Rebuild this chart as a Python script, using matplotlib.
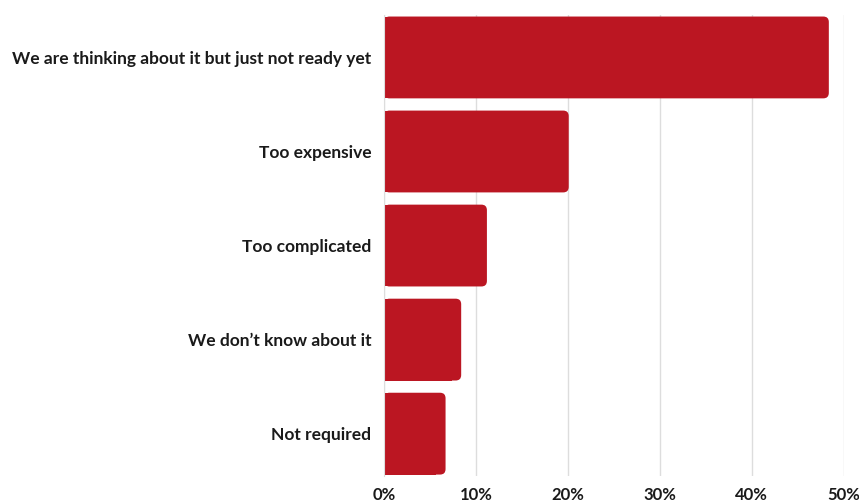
import matplotlib.pyplot as plt
from matplotlib.patches import FancyBboxPatch, Rectangle
from matplotlib.ticker import FuncFormatter

# survey answers, top to bottom
categories = [
    "We are thinking about it but just not ready yet",
    "Too expensive",
    "Too complicated",
    "We don\u2019t know about it",
    "Not required",
]
values = [48.4, 20.1, 11.2, 8.4, 6.7]
xticks = [0, 10, 20, 30, 40, 50]

bar_color = "#BB1622"
grid_color = "#DDDDDD"

plt.rcParams["font.family"] = ["Lato", "DejaVu Sans"]

fig = plt.figure(figsize=(8.59, 5.04), dpi=100)
ax = fig.add_axes([0.447, 0.0556, 0.982 - 0.447, 0.970 - 0.0556])

pos = list(range(len(categories)))
bars = ax.barh(pos, values, height=0.87, color=bar_color, zorder=2)

# swap the plain bars for ones with rounded right corners
aspect = (1 / 94.1) / (10 / 91.9)
for b in bars:
    b.set_visible(False)
    x, y, w, h = b.get_x(), b.get_y(), b.get_width(), b.get_height()
    ax.add_patch(FancyBboxPatch((x, y), w, h,
                                boxstyle="round,pad=0,rounding_size=0.6",
                                mutation_aspect=aspect, fc=bar_color, ec="none", zorder=2))
    ax.add_patch(Rectangle((x, y), w - 1.0, h, fc=bar_color, ec="none", zorder=2))

ax.set_xlim(0, 50)
ax.set_ylim(4.45, -0.45)
ax.set_xticks(xticks)
ax.xaxis.set_major_formatter(FuncFormatter(lambda v, p: f"{v:.0f}%"))
ax.set_yticks(pos)
ax.set_yticklabels(categories)

ax.grid(axis="x", color=grid_color, linewidth=1, zorder=0)
ax.set_axisbelow(True)
for s in ["top", "right", "bottom"]:
    ax.spines[s].set_visible(False)
ax.spines["left"].set_color(grid_color)

ax.tick_params(axis="both", length=0, colors="#1a1a1a")
ax.tick_params(axis="x", pad=8, labelsize=12)
ax.tick_params(axis="y", pad=9, labelsize=12.5)
for t in ax.get_xticklabels() + ax.get_yticklabels():
    t.set_fontweight("bold")

fig.savefig("out.png", dpi=100)
